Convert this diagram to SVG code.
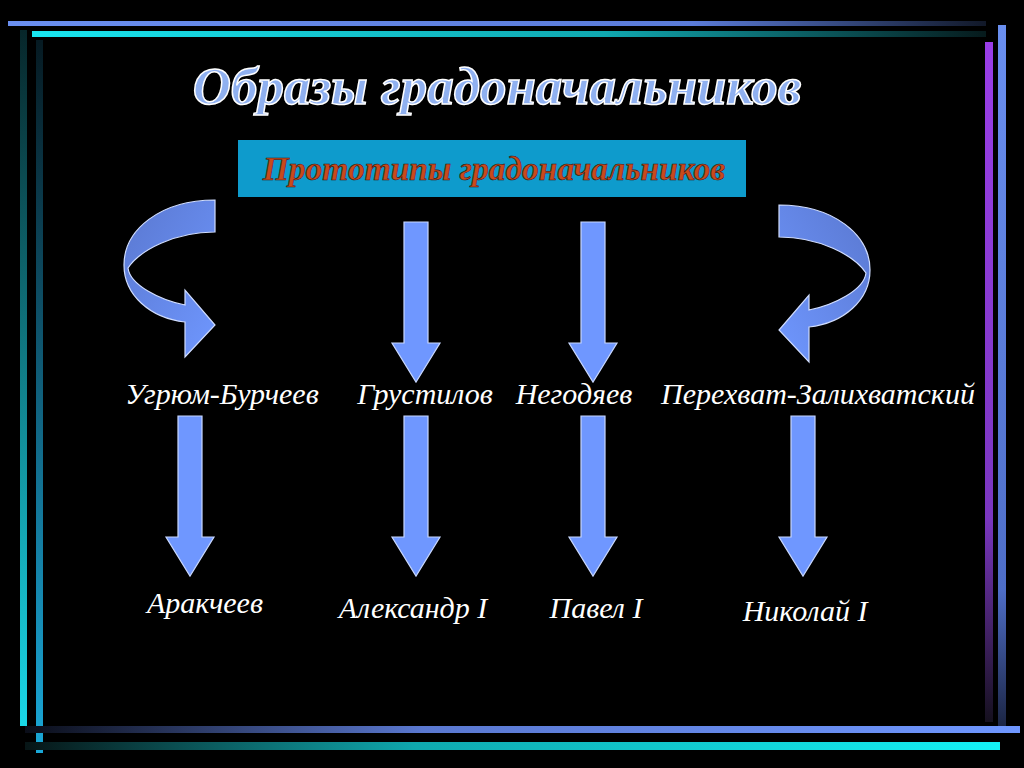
<svg xmlns="http://www.w3.org/2000/svg" width="1024" height="768" viewBox="0 0 1024 768">
<defs>
<linearGradient id="gBlueR" x1="0" x2="1"><stop offset="0" stop-color="#6a8ff0"/><stop offset="0.7" stop-color="#5a7bd8"/><stop offset="1" stop-color="#111828"/></linearGradient>
<linearGradient id="gCyanR" x1="0" x2="1"><stop offset="0" stop-color="#19e6f0"/><stop offset="0.6" stop-color="#10a8b0"/><stop offset="1" stop-color="#061a1c"/></linearGradient>
<linearGradient id="gBlueL" x1="0" x2="1"><stop offset="0" stop-color="#0a0d18"/><stop offset="0.4" stop-color="#5a78d0"/><stop offset="1" stop-color="#6f97ff"/></linearGradient>
<linearGradient id="gCyanL" x1="0" x2="1"><stop offset="0" stop-color="#071516"/><stop offset="0.4" stop-color="#0fa8ae"/><stop offset="1" stop-color="#14f2f6"/></linearGradient>
<linearGradient id="gTealV" x1="0" y1="0" x2="0" y2="1"><stop offset="0" stop-color="#07262a"/><stop offset="1" stop-color="#1ad8e8"/></linearGradient>
<linearGradient id="gTealV2" x1="0" y1="0" x2="0" y2="1"><stop offset="0" stop-color="#061a22"/><stop offset="1" stop-color="#1aa8d8"/></linearGradient>
<linearGradient id="gPurp" x1="0" y1="0" x2="0" y2="1"><stop offset="0" stop-color="#9a3ee8"/><stop offset="0.7" stop-color="#7a36c0"/><stop offset="1" stop-color="#15101e"/></linearGradient>
<linearGradient id="gBlueV" x1="0" y1="0" x2="0" y2="1"><stop offset="0" stop-color="#6a8ff0"/><stop offset="0.8" stop-color="#4e6ec8"/><stop offset="1" stop-color="#1a2340"/></linearGradient>
<linearGradient id="gArr" x1="0" y1="0" x2="1" y2="1"><stop offset="0" stop-color="#5a78d0"/><stop offset="1" stop-color="#6f97ff"/></linearGradient>
<path id="arrS" d="M-12,0 H12 V121 H24 L0,160 L-24,121 H-12 Z"/>
<path id="arrC" d="M215,200 C160,200 124,230 124,265 C124,295 150,318 185,322 L185,357 L215,325 L185,290 L185,305 C160,300 130,285 128,268 C140,250 175,232 215,232 Z"/>
</defs>
<style>
.arr{fill:#6f97ff;stroke:#c8d8ff;stroke-width:1.2}
.curv{fill:url(#gArr);stroke:#d0ddff;stroke-width:1.2}
.lbl{font-family:"Liberation Serif",serif;font-style:italic;font-size:30px;fill:#ffffff;text-anchor:middle}
</style>
<rect width="1024" height="768" fill="#000"/>
<g id="frame">
<rect x="8" y="21" width="978" height="5" fill="url(#gBlueR)"/>
<rect x="32" y="31" width="954" height="6" fill="url(#gCyanR)"/>
<rect x="20" y="30" width="7" height="696" fill="url(#gTealV)"/>
<rect x="36" y="40" width="7" height="713" fill="url(#gTealV2)"/>
<rect x="985" y="42" width="8" height="680" fill="url(#gPurp)"/>
<rect x="998" y="25" width="8" height="705" fill="url(#gBlueV)"/>
<rect x="25" y="726" width="995" height="7" fill="url(#gBlueL)"/>
<rect x="25" y="742" width="975" height="8" fill="url(#gCyanL)"/>
</g>
<g id="title"><text x="497" y="104" font-family="Liberation Serif,serif" font-style="italic" font-weight="bold" font-size="53" fill="#8fb0f0" stroke="#ffffff" stroke-width="1.5" text-anchor="middle">Образы градоначальников</text></g>
<g id="header">
<rect x="238" y="140" width="508" height="57" fill="#0e9bcc"/>
<text x="494" y="180" font-family="Liberation Serif,serif" font-style="italic" font-weight="bold" font-size="33.5" fill="#c84a1c" stroke="#3a1208" stroke-width="0.6" text-anchor="middle">Прототипы градоначальников</text>
</g>
<g id="connectors">
<use href="#arrC" class="curv"/>
<use href="#arrC" class="curv" transform="translate(994,5) scale(-1,1)"/>
<use href="#arrS" class="arr" x="416" y="222"/>
<use href="#arrS" class="arr" x="593" y="222"/>
<use href="#arrS" class="arr" x="190" y="416"/>
<use href="#arrS" class="arr" x="416" y="416"/>
<use href="#arrS" class="arr" x="593" y="416"/>
<use href="#arrS" class="arr" x="803" y="416"/>
</g>
<g id="n1"><text class="lbl" x="222" y="404">Угрюм-Бурчеев</text></g>
<g id="n2"><text class="lbl" x="425" y="404">Грустилов</text></g>
<g id="n3"><text class="lbl" x="574" y="404">Негодяев</text></g>
<g id="n4"><text class="lbl" x="818" y="404">Перехват-Залихватский</text></g>
<g id="n5"><text class="lbl" x="205" y="613">Аракчеев</text></g>
<g id="n6"><text class="lbl" x="413" y="618">Александр I</text></g>
<g id="n7"><text class="lbl" x="596" y="618">Павел I</text></g>
<g id="n8"><text class="lbl" x="805" y="621">Николай I</text></g>
</svg>
